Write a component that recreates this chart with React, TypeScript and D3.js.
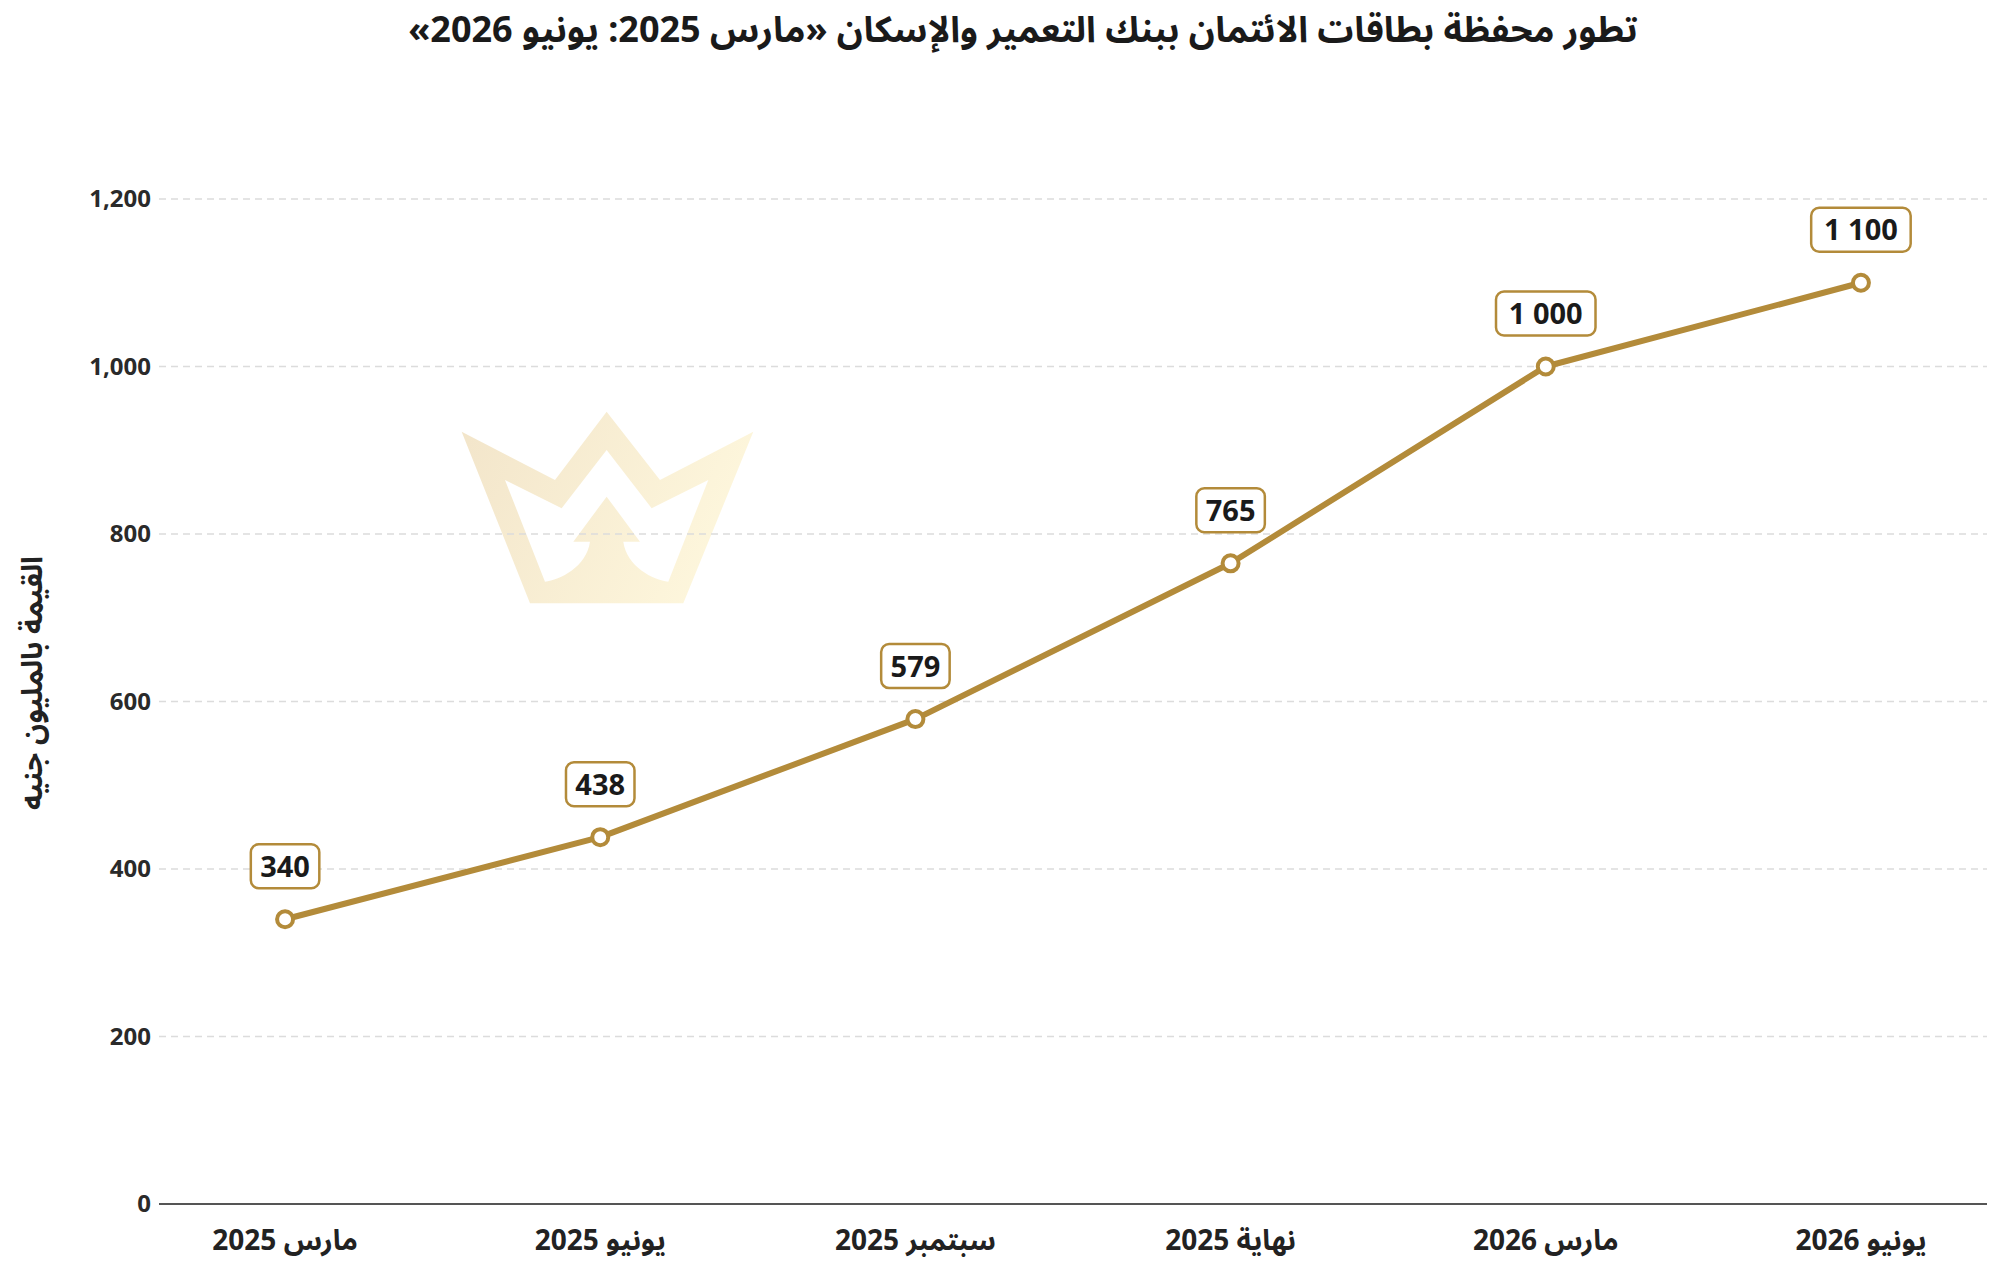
import React from "react";
import * as d3 from "d3";

// chart data
const categories = ["مارس 2025", "يونيو 2025", "سبتمبر 2025", "نهاية 2025", "مارس 2026", "يونيو 2026"];
const values = [340, 438, 579, 765, 1000, 1100];
const yTicks = [0, 200, 400, 600, 800, 1000, 1200];

const title = "تطور محفظة بطاقات الائتمان ببنك التعمير والإسكان «مارس 2025: يونيو 2026»";
const yTitle = "القيمة بالمليون جنيه";

const W = 2000;
const H = 1270;
const margin = { top: 199, right: 13, bottom: 66, left: 159 };

const GOLD = "#b38b3a";
const FONT = "'Noto Sans', 'Noto Sans Arabic', 'DejaVu Sans', sans-serif";

const fmtTick = d3.format(",");
const fmtLabel = (v) => d3.format(",")(v).replace(/,/g, " ");

// crown watermark, drawn in a 1125x700 box
const crownOuter =
  "M125,155 L405,300 L560,95 L720,300 L1000,155 L790,670 L330,670 Z";
const crownInner =
  "M255,300 L425,385 L560,210 L695,385 L865,300 L745,605 C700,600 620,560 610,485 L660,485 L560,350 L460,485 L510,485 C500,560 420,600 375,605 Z";

const Crown = () => (
  <g transform="translate(420,380) scale(0.3333)">
    <defs>
      <linearGradient id="crownGrad" x1="0" x2="1" y1="0" y2="0.3">
        <stop offset="0%" stopColor="#f1e2c4" />
        <stop offset="100%" stopColor="#fdf5d8" />
      </linearGradient>
    </defs>
    <path d={crownOuter + " " + crownInner} fill="url(#crownGrad)" fillRule="evenodd" opacity={0.9} />
  </g>
);

const App = () => {
  const innerW = W - margin.left - margin.right;
  const innerH = H - margin.top - margin.bottom;

  const x = d3.scalePoint().domain(categories).range([0, innerW]).padding(0.4);
  const y = d3.scaleLinear().domain([0, 1200]).range([innerH, 0]);

  const points = categories.map((c, i) => ({ c, v: values[i], px: x(c), py: y(values[i]) }));
  const line = d3
    .line()
    .x((d) => d.px)
    .y((d) => d.py);

  return (
    <svg
      width={W}
      height={H}
      style={{ position: "absolute", left: 0, top: 0, background: "#fff" }}
      fontFamily={FONT}
    >
      <rect width={W} height={H} fill="#fff" />
      <text x={1023} y={42} textAnchor="middle" fontSize={36} fontWeight={700} fill="#1a1a1a" direction="rtl">
        {title}
      </text>

      <Crown />

      <text
        transform={`translate(34, 683) rotate(-90)`}
        textAnchor="middle"
        dominantBaseline="middle"
        fontSize={29}
        fontWeight={700}
        fill="#222"
      >
        {yTitle}
      </text>

      <g transform={`translate(${margin.left}, ${margin.top})`}>
        {yTicks.map((t) => (
          <g key={t} transform={`translate(0, ${y(t)})`}>
            {t === 0 ? (
              <line x1={0} x2={innerW} stroke="#555" strokeWidth={2} />
            ) : (
              <line x1={0} x2={innerW} stroke="#dcdcdc" strokeWidth={1.5} strokeDasharray="7 5" />
            )}
            <text x={-8} dy="0.35em" textAnchor="end" fontSize={24} fontWeight={700} fill="#2a2a2a">
              {fmtTick(t)}
            </text>
          </g>
        ))}

        {categories.map((c) => (
          <text key={c} x={x(c)} y={innerH + 46} textAnchor="middle" fontSize={28} fontWeight={700} fill="#222">
            {c}
          </text>
        ))}

        <path d={line(points)} fill="none" stroke={GOLD} strokeWidth={6} strokeLinejoin="round" />

        {points.map((d) => (
          <circle key={d.c} cx={d.px} cy={d.py} r={8} fill="#fff" stroke={GOLD} strokeWidth={4} />
        ))}

        {points.map((d) => {
          const label = fmtLabel(d.v);
          const bw = label.length * 15.5 + 22;
          const bh = 44;
          return (
            <g key={"l" + d.c} transform={`translate(${d.px}, ${d.py - 53})`}>
              <rect x={-bw / 2} y={-bh / 2} width={bw} height={bh} rx={8} fill="#fff" stroke={GOLD} strokeWidth={2.5} />
              <text dy="0.36em" textAnchor="middle" fontSize={29} fontWeight={700} fill="#1a1a1a">
                {label}
              </text>
            </g>
          );
        })}
      </g>
    </svg>
  );
};

export default App;
